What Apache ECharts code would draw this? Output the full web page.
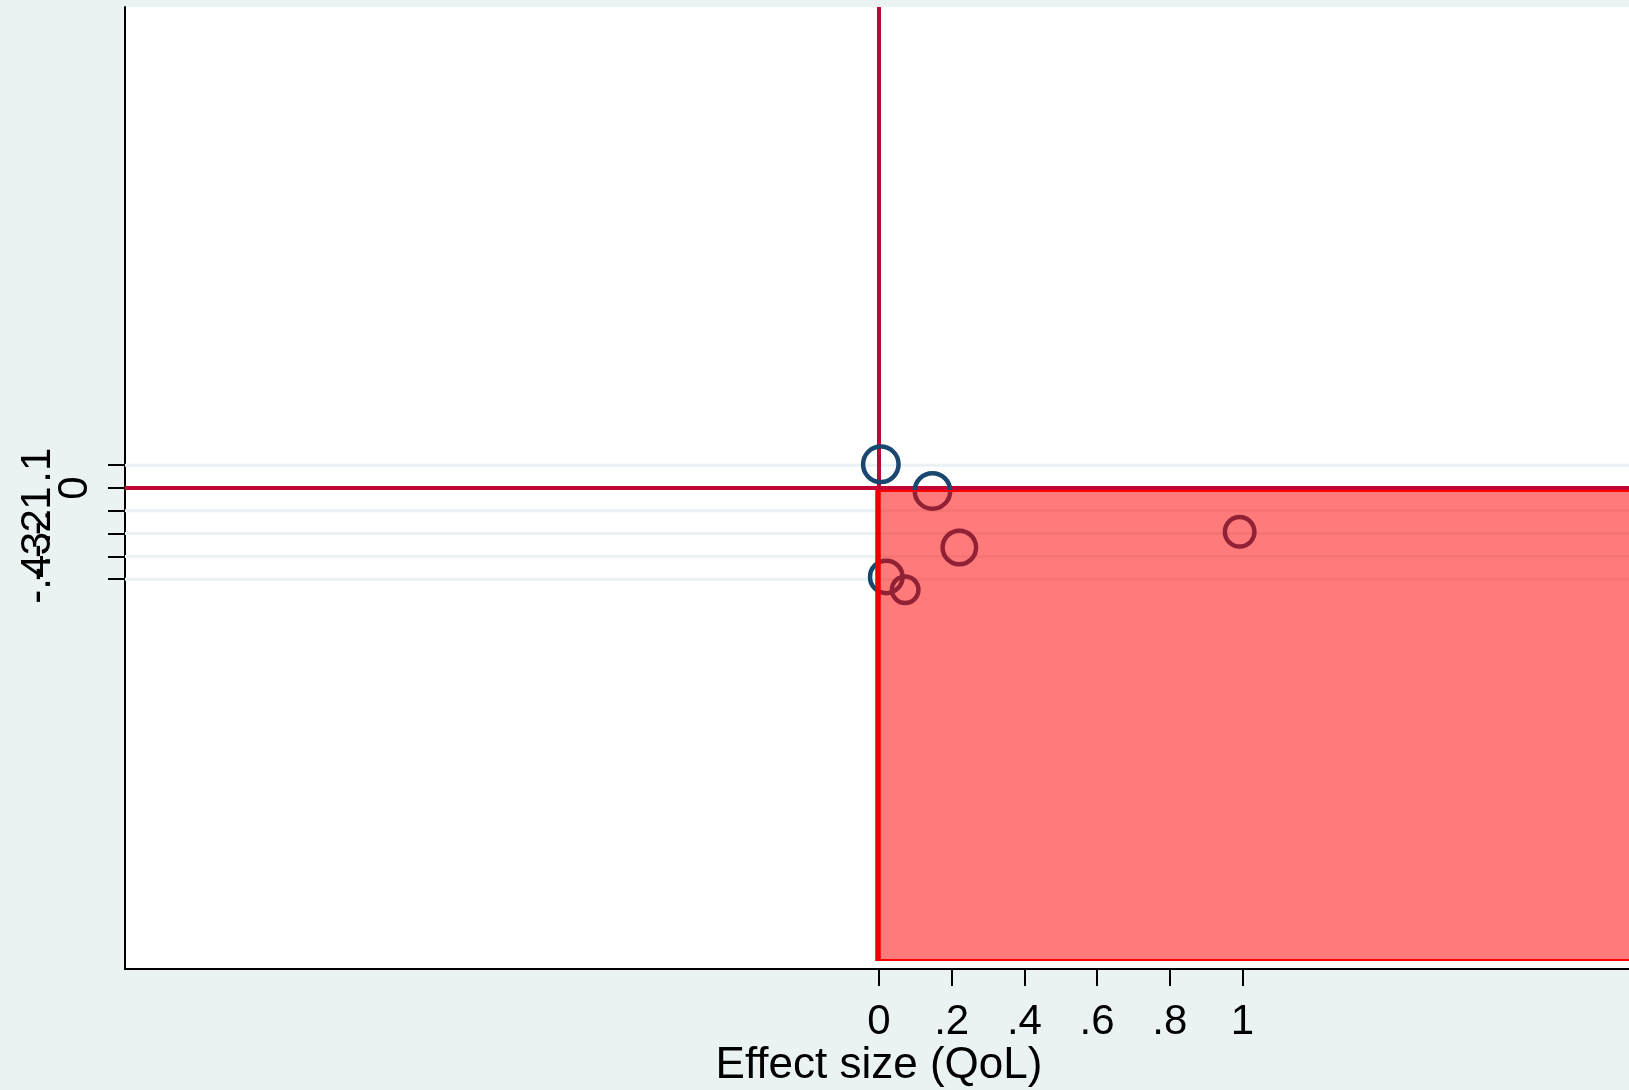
<!DOCTYPE html>
<html>
<head>
<meta charset="utf-8">
<script src="https://cdn.jsdelivr.net/npm/echarts@6/dist/echarts.min.js"></script>
<style>
  html, body { margin: 0; padding: 0; background: #eaf2f3; }
  #chart { width: 1629px; height: 1090px; }
</style>
</head>
<body>
<div id="chart"></div>
<script>
// ---- data ----
const xTickValues = [0, 0.2, 0.4, 0.6, 0.8, 1];
const xTickLabels = ['0', '.2', '.4', '.6', '.8', '1'];
const yTickValues = [-0.4, -0.3, -0.2, -0.1, 0, 0.1];
const yTickLabels = ['-.4', '-.3', '-.2', '-.1', '0', '.1'];
const gridLineValues = [-0.4, -0.3, -0.2, -0.1, 0.1];
const effectSize = [0.005, 0.147, 0.221, 0.020, 0.072, 0.992];
const yValues = [0.104, -0.013, -0.261, -0.390, -0.446, -0.192];
const studyWeights = [16, 16, 14.4, 13.7, 9.6, 11.6];
const xAxisTitle = 'Effect size (QoL)';
// shaded region (x from 0 to right edge, y from 0 downwards)
const regionX = [0, 2.074];
const regionY = [-2.07, 0];

// ---- axis configuration ----
const X_MIN = -2.074, X_MAX = 2.074;
const Y_MIN = -2.11, Y_MAX = 2.11;
const NAVY = '#1a476f';
const CRIMSON = '#c10534';
const FONT = 'Liberation Sans';

function labelFor(values, labels, v) {
  for (let i = 0; i < values.length; i++) {
    if (Math.abs(values[i] - v) < 1e-6) return labels[i];
  }
  return '';
}

const chart = echarts.init(document.getElementById('chart'), null, { renderer: 'canvas' });

const scatterData = effectSize.map((x, i) => [x, yValues[i], studyWeights[i]]);

// main y axis: line + ticks only
const yAxes = [{
  type: 'value', min: Y_MIN, max: Y_MAX, position: 'left',
  axisLine: { show: true, onZero: false, lineStyle: { color: '#000', width: 2 } },
  axisTick: { show: true, customValues: yTickValues, length: 17, lineStyle: { color: '#000', width: 2 } },
  axisLabel: { show: false },
  splitLine: { show: false }
}];
// one label-only axis per tick label (the "0" label sits nearer the axis)
yTickValues.forEach((v, i) => {
  yAxes.push({
    type: 'value', min: Y_MIN, max: Y_MAX, position: 'left', offset: 0,
    axisLine: { show: false, onZero: false },
    axisTick: { show: false },
    axisLabel: {
      show: true, customValues: [v], rotate: 90,
      margin: v === 0 ? 29 : 66,
      showMinLabel: true, showMaxLabel: true, hideOverlap: false,
      fontSize: 42, color: '#000', fontFamily: FONT,
      formatter: () => yTickLabels[i]
    },
    splitLine: { show: false }
  });
});

const option = {
  backgroundColor: '#eaf2f3',
  animation: false,
  textStyle: { fontFamily: FONT },
  grid: {
    left: 125, top: 7, width: 1508, height: 962,
    show: true, backgroundColor: '#ffffff', borderWidth: 0,
    containLabel: false, outerBoundsMode: 'none'
  },
  xAxis: {
    type: 'value', min: X_MIN, max: X_MAX,
    axisLine: { show: true, onZero: false, lineStyle: { color: '#000', width: 2 } },
    axisTick: { show: true, customValues: xTickValues, length: 17, lineStyle: { color: '#000', width: 2 } },
    axisLabel: {
      show: true, customValues: xTickValues, margin: 32,
      showMinLabel: true, showMaxLabel: true,
      fontSize: 42, color: '#000', fontFamily: FONT,
      formatter: v => labelFor(xTickValues, xTickLabels, v)
    },
    splitLine: { show: false },
    name: xAxisTitle, nameLocation: 'middle', nameGap: 75, nameMoveOverlap: false,
    nameTextStyle: { fontSize: 44, color: '#000', fontFamily: FONT }
  },
  yAxis: yAxes,
  series: [
    {
      // light grid lines
      type: 'custom', name: 'grid', z: 1, silent: true,
      xAxisIndex: 0, yAxisIndex: 0,
      data: gridLineValues.map(v => [v]),
      encode: { y: 0 },
      renderItem: function (params, api) {
        const cs = params.coordSys;
        const p = api.coord([X_MIN, api.value(0)]);
        return {
          type: 'line',
          shape: { x1: cs.x, y1: p[1], x2: cs.x + cs.width, y2: p[1] },
          style: { stroke: '#eaf2f3', lineWidth: 3 }
        };
      }
    },
    {
      // reference lines at x = 0 and y = 0
      type: 'custom', name: 'refs', z: 2, silent: true,
      xAxisIndex: 0, yAxisIndex: 0,
      data: [[0, 0]],
      encode: { x: 0, y: 1 },
      renderItem: function (params, api) {
        const cs = params.coordSys;
        const o = api.coord([api.value(0), api.value(1)]);
        return {
          type: 'group',
          children: [
            { type: 'line', shape: { x1: cs.x, y1: o[1], x2: cs.x + cs.width, y2: o[1] },
              style: { stroke: CRIMSON, lineWidth: 4 } },
            { type: 'line', shape: { x1: o[0], y1: cs.y, x2: o[0], y2: o[1] },
              style: { stroke: CRIMSON, lineWidth: 4 } }
          ]
        };
      }
    },
    {
      type: 'scatter', name: 'studies', z: 3,
      xAxisIndex: 0, yAxisIndex: 0,
      data: scatterData,
      symbol: 'circle',
      symbolSize: d => 10 * Math.sqrt(d[2]) - 4.5,
      itemStyle: { color: 'rgba(0,0,0,0)', borderColor: NAVY, borderWidth: 4.5, opacity: 1 },
      emphasis: { disabled: true }
    },
    {
      // shaded region drawn on top
      type: 'custom', name: 'region', z: 4, silent: true,
      xAxisIndex: 0, yAxisIndex: 0,
      data: [[regionX[0], regionY[1], regionX[1], regionY[0]]],
      encode: { x: [0, 2], y: [1, 3] },
      renderItem: function (params, api) {
        const a = api.coord([api.value(0), api.value(1)]);
        const b = api.coord([api.value(2), api.value(3)]);
        return {
          type: 'group',
          children: [
            { type: 'rect',
              shape: { x: a[0], y: a[1] + 3, width: b[0] - a[0], height: b[1] - a[1] - 3 },
              style: { fill: 'rgba(255,0,0,0.52)', stroke: '#ff0000', lineWidth: 2 } },
            { type: 'line',
              shape: { x1: a[0] - 1, y1: a[1] + 2, x2: a[0] - 1, y2: b[1] + 1 },
              style: { stroke: '#ee0000', lineWidth: 5.5 } }
          ]
        };
      }
    }
  ]
};

chart.setOption(option);
</script>
</body>
</html>
